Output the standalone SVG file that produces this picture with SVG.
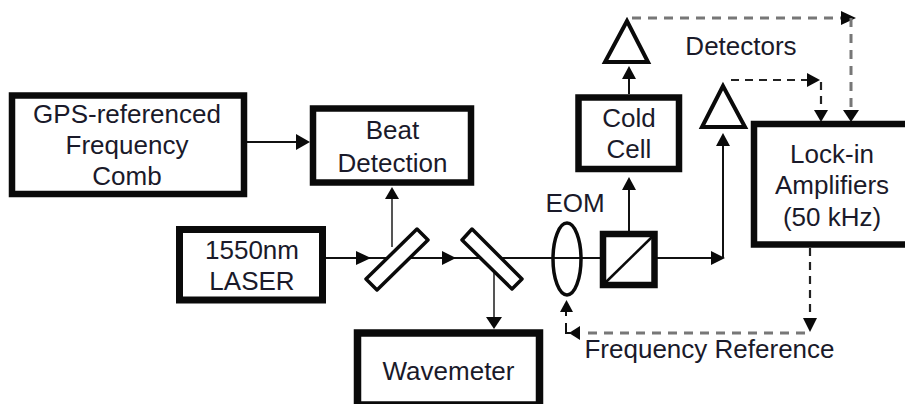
<svg xmlns="http://www.w3.org/2000/svg" width="905" height="404" viewBox="0 0 905 404">
<style>
.box{fill:#fff;stroke:#0a0a0a;stroke-width:6.5}
.opt{fill:#fff;stroke:#0a0a0a;stroke-width:3.5;stroke-linejoin:round}
.l{fill:none;stroke:#111;stroke-width:2}
.g{fill:none;stroke:#555;stroke-width:2}
.d{fill:none;stroke:#222;stroke-width:2.2;stroke-dasharray:8 6}
.dg{fill:none;stroke:#777;stroke-width:3;stroke-dasharray:9 7}
.h{fill:#0a0a0a}
text{font-family:"Liberation Sans",Arial,sans-serif;font-size:26px;fill:#1a1a2a;text-anchor:middle}
</style>
<rect width="905" height="404" fill="#fff"/>
<g id="connectors">
<path class="l" d="M247 142H300"/>
<path class="h" d="M296 134L310 142L296 150Z"/>
<path class="g" d="M392 247V198"/>
<path class="h" d="M385 199L392 187L399 199Z"/>
<path class="l" d="M326 258H720"/>
<path class="h" d="M356 251L371 258L356 265Z"/>
<path class="h" d="M442 251L456 258L442 265Z"/>
<path class="h" d="M711 251L725 258L711 265Z"/>
<path class="g" d="M494 260V320"/>
<path class="h" d="M486 317L494 329L502 317Z"/>
<path class="l" d="M629 232V184"/>
<path class="h" d="M622 190L629 177L636 190Z"/>
<path class="l" d="M629 94V76"/>
<path class="h" d="M622 79L629 66L636 79Z"/>
<path class="l" d="M723 258V146"/>
<path class="h" d="M716 146L723 133L730 146Z"/>
<path class="dg" d="M632 18H850"/>
<path class="h" d="M841 11L856 18L841 25Z"/>
<path class="dg" d="M851 18V110"/>
<path class="h" d="M843 110L851 122L859 110Z"/>
<path class="d" d="M731 80H815"/>
<path class="h" d="M807 73L820 80L807 87Z"/>
<path class="d" d="M821 82V112"/>
<path class="h" d="M814 110L821 122L828 110Z"/>
<path class="d" d="M810 248V318"/>
<path class="h" d="M803 318L810 332L817 318Z"/>
<path class="dg" d="M805 333H582"/>
<path class="h" d="M580 326L569 333L580 340Z"/>
<path class="l" stroke-width="3" d="M566 323V333H572M566 310V316"/>
<path class="h" d="M560 312L566.500 300L573 312Z"/>
</g>
<g id="gps"><rect class="box" x="12" y="95.500" width="232" height="98.500"/>
<text x="127" y="123">GPS-referenced</text><text x="127" y="154">Frequency</text><text x="127" y="185">Comb</text></g>
<g id="beat"><rect class="box" x="313" y="108.500" width="158" height="74"/>
<text x="392.500" y="139">Beat</text><text x="392.500" y="172">Detection</text></g>
<g id="laser"><rect class="box" x="179.500" y="229.500" width="143" height="70.500" style="stroke-width:7"/>
<text x="252" y="259">1550nm</text><text x="252" y="290">LASER</text></g>
<g id="splitter1"><path class="opt" d="M417 229L428 240L377 290L366 279Z"/></g>
<g id="splitter2"><path class="opt" d="M472 229L522 279L512 289L462 240Z"/></g>
<g id="wavemeter"><rect class="box" x="357.500" y="333" width="182" height="72" style="stroke-width:7.500"/>
<text x="448.500" y="380">Wavemeter</text></g>
<g id="eom"><ellipse cx="567" cy="259" rx="14" ry="36" fill="none" stroke="#0a0a0a" stroke-width="3.500"/>
<text x="575" y="212">EOM</text></g>
<g id="cube"><rect class="box" x="603" y="234" width="51.500" height="51"/><path d="M606 282L652 237" stroke="#0a0a0a" stroke-width="2.500"/></g>
<g id="coldcell"><rect class="box" x="578.500" y="97.500" width="100.500" height="71.500"/>
<text x="629" y="127">Cold</text><text x="629" y="158">Cell</text></g>
<g id="det1"><path d="M627 21L605 62H648Z" fill="#fff" stroke="#0a0a0a" stroke-width="4"/></g>
<g id="det2"><path d="M723 86L702 127H745Z" fill="#fff" stroke="#0a0a0a" stroke-width="4"/></g>
<text x="741" y="55">Detectors</text>
<g id="lockin"><rect class="box" x="754" y="124" width="170" height="120.500"/>
<text x="832" y="163">Lock-in</text><text x="832" y="194">Amplifiers</text><text x="832" y="226">(50 kHz)</text></g>
<text x="709.500" y="358">Frequency Reference</text>
</svg>
